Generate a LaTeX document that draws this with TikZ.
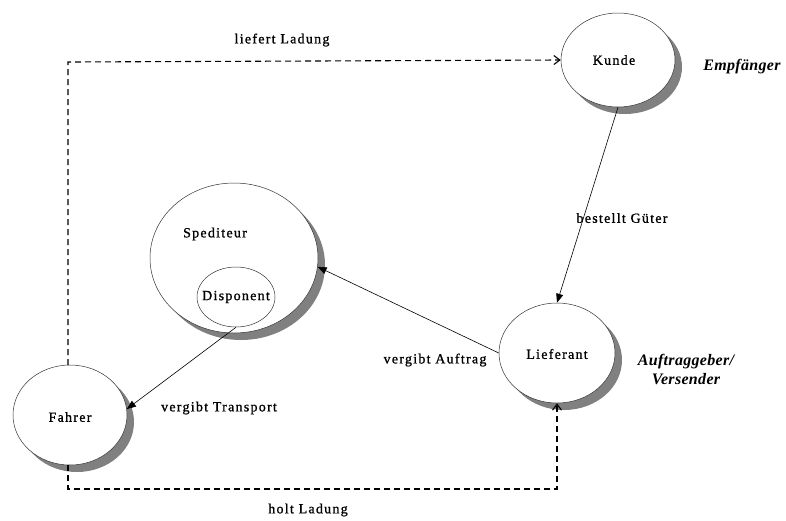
\documentclass[tikz,border=0pt]{standalone}
\usepackage{fontspec}
\setmainfont{Liberation Serif}
\newfontfamily\lblfont[LetterSpace=9,FakeBold=1]{Liberation Serif}
\newfontfamily\notefont[LetterSpace=2]{Liberation Serif}
\usetikzlibrary{shapes.geometric,shadows,arrows.meta}
\tikzset{
  role/.style={ellipse, draw=black!80, line width=0.5pt, fill=white, inner sep=0pt,
    drop shadow={shadow xshift=7pt, shadow yshift=-7pt, fill=black!50, opacity=1}},
  inner role/.style={ellipse, draw=black!80, line width=0.5pt, fill=white, inner sep=0pt},
  lbl/.style={font=\lblfont\fontsize{14}{16}\selectfont, inner sep=0pt},
  note/.style={font=\notefont\fontsize{16}{19}\selectfont\bfseries\itshape, inner sep=0pt, align=center},
  flow/.style={draw=black, line width=0.6pt, -{Triangle[length=9pt,width=7pt]}},
  goods/.style={draw=black, line width=1.1pt, dash pattern=on 6pt off 4pt,
    -{Straight Barb[length=6pt,width=9pt,line width=1.1pt]}}
}
\begin{document}
\begin{tikzpicture}[x=1pt, y=-1pt]
\useasboundingbox (0,0) rectangle (786,520);

% parties
\node[role, minimum width=114pt, minimum height=94pt] (kunde) at (618,60) {};
\node[lbl] at (614,60) {Kunde};
\node[role, minimum width=168pt, minimum height=150pt] (sped) at (234,258) {};
\node[lbl] at (215,234) {Spediteur};
\node[inner role, minimum width=78pt, minimum height=60pt] (disp) at (236,297) {};
\node[lbl] at (236,297) {Disponent};
\node[role, minimum width=114pt, minimum height=100pt] (fahrer) at (70,415) {};
\node[lbl] at (70,417) {Fahrer};
\node[role, minimum width=116pt, minimum height=100pt] (lief) at (557,353) {};
\node[lbl] at (557,354) {Lieferant};

% role notes
\node[note] (empf) at (742,67) {Empfänger};
\node[note] (auftr) at (686,369) {Auftraggeber/\\Versender};

% orders
\draw[flow] (kunde.south) -- (lief.north);
\node[lbl] (bg) at (622,218) {bestellt Güter};
\draw[flow] (lief.west) -- (sped.-6);
\node[lbl] (va) at (435,360) {vergibt Auftrag};
\draw[flow] (disp.south) -- (fahrer.6);
\node[lbl] (vt) at (219,408) {vergibt Transport};

% goods movement
\coordinate (top) at (68,62);
\coordinate (bot) at (68,489);
\draw[goods] (68,365) -- (top) -- (kunde.west);
\draw[goods] (68,465) -- (bot) -| (lief.south);
\node[lbl] (ll) at (282,40) {liefert Ladung};
\node[lbl] (hl) at (308,510) {holt Ladung};
\end{tikzpicture}
\end{document}
